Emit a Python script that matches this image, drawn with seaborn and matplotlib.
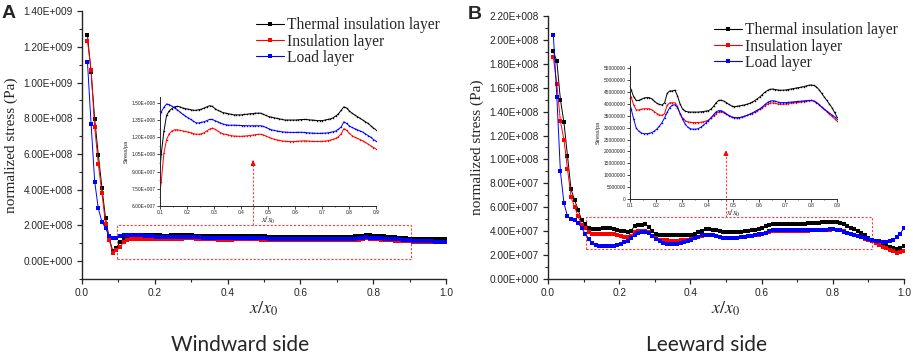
import numpy as np
import pandas as pd
import matplotlib
matplotlib.use("Agg")
import matplotlib.pyplot as plt
import matplotlib.ticker as mtick
from matplotlib.lines import Line2D
from matplotlib.patches import Rectangle
import seaborn as sns

# series names and colours
layers = ['Thermal insulation layer', 'Insulation layer', 'Load layer']
cores = ['#000000', '#ff0000', '#0000ff']

# x/x0 positions of the sample points (same for every curve)
x_pos = np.linspace(0.015, 1.0, 100)

# windward side, stress in units of 1e8 Pa
wind_thermal = [
    12.65, 10.6, 7.95, 5.95, 4.1, 2.4, 1.3, 0.55, 0.75, 1.05,
    1.25, 1.39, 1.43, 1.45, 1.465, 1.47, 1.465, 1.455, 1.45, 1.445,
    1.44, 1.435, 1.435, 1.44, 1.445, 1.455, 1.465, 1.475, 1.47, 1.45,
    1.435, 1.425, 1.415, 1.41, 1.405, 1.40, 1.395, 1.395, 1.395, 1.395,
    1.40, 1.40, 1.405, 1.405, 1.41, 1.41, 1.41, 1.40, 1.39, 1.38,
    1.375, 1.37, 1.365, 1.36, 1.355, 1.35, 1.35, 1.35, 1.35, 1.35,
    1.352, 1.354, 1.355, 1.355, 1.352, 1.35, 1.348, 1.345, 1.345, 1.345,
    1.35, 1.355, 1.36, 1.37, 1.385, 1.405, 1.435, 1.465, 1.455, 1.43,
    1.41, 1.395, 1.38, 1.365, 1.35, 1.335, 1.32, 1.30, 1.28, 1.265,
    1.255, 1.25, 1.25, 1.25, 1.25, 1.25, 1.25, 1.25, 1.25, 1.25]
wind_insul = [
    12.35, 10.7, 7.5, 5.45, 3.8, 2.1, 1.2, 0.45, 0.6, 0.81,
    1.06, 1.18, 1.23, 1.255, 1.265, 1.265, 1.26, 1.255, 1.25, 1.246,
    1.24, 1.232, 1.226, 1.226, 1.23, 1.24, 1.255, 1.27, 1.28, 1.27,
    1.255, 1.24, 1.23, 1.225, 1.22, 1.215, 1.21, 1.209, 1.208, 1.208,
    1.21, 1.212, 1.215, 1.218, 1.222, 1.225, 1.226, 1.22, 1.21, 1.20,
    1.19, 1.183, 1.177, 1.172, 1.168, 1.165, 1.163, 1.162, 1.162, 1.163,
    1.165, 1.167, 1.168, 1.168, 1.166, 1.164, 1.163, 1.163, 1.163, 1.164,
    1.166, 1.17, 1.175, 1.182, 1.19, 1.205, 1.23, 1.275, 1.26, 1.235,
    1.215, 1.2, 1.19, 1.18, 1.17, 1.155, 1.14, 1.125, 1.11, 1.10,
    1.095, 1.09, 1.09, 1.09, 1.09, 1.09, 1.09, 1.09, 1.09, 1.09]
wind_load = [
    11.15, 7.7, 4.45, 2.95, 2.2, 1.85, 1.4, 1.27, 1.3, 1.42,
    1.46, 1.49, 1.485, 1.47, 1.455, 1.44, 1.42, 1.40, 1.385, 1.37,
    1.355, 1.34, 1.325, 1.325, 1.33, 1.335, 1.345, 1.355, 1.355, 1.345,
    1.335, 1.325, 1.315, 1.31, 1.305, 1.305, 1.305, 1.304, 1.303, 1.302,
    1.301, 1.30, 1.30, 1.30, 1.30, 1.30, 1.30, 1.295, 1.285, 1.275,
    1.265, 1.26, 1.255, 1.25, 1.247, 1.245, 1.243, 1.242, 1.242, 1.242,
    1.243, 1.243, 1.242, 1.24, 1.238, 1.236, 1.235, 1.234, 1.234, 1.235,
    1.236, 1.238, 1.242, 1.248, 1.255, 1.27, 1.29, 1.335, 1.32, 1.30,
    1.285, 1.275, 1.265, 1.255, 1.245, 1.23, 1.215, 1.20, 1.18, 1.165,
    1.15, 1.14, 1.13, 1.12, 1.11, 1.10, 1.09, 1.085, 1.08, 1.08]

# leeward side, stress in units of 1e7 Pa
lee_thermal = [
    19.05, 18.2, 15.0, 13.1, 10.3, 7.5, 6.6, 5.8, 4.9, 4.6,
    4.3, 4.15, 4.15, 4.2, 4.25, 4.27, 4.27, 4.22, 4.12, 4.03,
    3.98, 3.96, 4.05, 4.45, 4.55, 4.55, 4.58, 4.35, 4.0, 3.78,
    3.7, 3.67, 3.66, 3.66, 3.66, 3.66, 3.67, 3.68, 3.7, 3.72,
    3.78, 3.9, 4.05, 4.15, 4.16, 4.12, 4.06, 3.98, 3.92, 3.89,
    3.9, 3.92, 3.94, 3.96, 3.99, 4.03, 4.08, 4.14, 4.22, 4.3,
    4.4, 4.5, 4.57, 4.62, 4.63, 4.61, 4.59, 4.58, 4.58, 4.59,
    4.61, 4.63, 4.65, 4.67, 4.69, 4.71, 4.73, 4.76, 4.79, 4.8,
    4.78, 4.72, 4.6, 4.45, 4.3, 4.15, 4.0, 3.85, 3.65, 3.45,
    3.3, 3.15, 3.0, 2.88, 2.78, 2.68, 2.58, 2.5, 2.6, 2.75]
lee_insul = [
    18.55, 16.3, 13.2, 11.65, 9.2, 6.85, 6.05, 5.25, 4.55, 4.3,
    3.95, 3.75, 3.75, 3.78, 3.8, 3.8, 3.8, 3.76, 3.68, 3.6,
    3.54, 3.52, 3.6, 3.95, 4.05, 4.05, 4.05, 3.9, 3.6, 3.4,
    3.3, 3.25, 3.23, 3.22, 3.22, 3.22, 3.23, 3.25, 3.28, 3.32,
    3.4, 3.5, 3.6, 3.66, 3.67, 3.64, 3.58, 3.52, 3.46, 3.43,
    3.42, 3.43, 3.45, 3.48, 3.52, 3.56, 3.6, 3.65, 3.71, 3.78,
    3.85, 3.93, 4.0, 4.04, 4.05, 4.03, 4.0, 3.99, 3.99, 4.0,
    4.02, 4.04, 4.05, 4.06, 4.07, 4.08, 4.1, 4.12, 4.14, 4.15,
    4.13, 4.07, 3.98, 3.88, 3.78, 3.68, 3.58, 3.48, 3.38, 3.28,
    3.15, 3.0, 2.85, 2.7, 2.58, 2.45, 2.32, 2.2, 2.25, 2.38]
lee_load = [
    20.45, 15.2, 9.0, 6.35, 5.25, 5.05, 4.9, 4.7, 4.25, 3.8,
    3.35, 2.98, 2.85, 2.78, 2.75, 2.75, 2.76, 2.8, 2.86, 2.95,
    3.07, 3.22, 3.42, 3.65, 3.85, 3.95, 3.97, 3.85, 3.6, 3.35,
    3.15, 3.02, 2.96, 2.94, 2.94, 2.96, 3.02, 3.1, 3.2, 3.3,
    3.42, 3.55, 3.67, 3.72, 3.72, 3.66, 3.58, 3.5, 3.45, 3.43,
    3.42, 3.43, 3.45, 3.48, 3.52, 3.57, 3.62, 3.68, 3.74, 3.8,
    3.88, 3.98, 4.07, 4.12, 4.14, 4.12, 4.08, 4.06, 4.06, 4.06,
    4.07, 4.08, 4.09, 4.1, 4.11, 4.12, 4.13, 4.14, 4.15, 4.15,
    4.12, 4.06, 3.97, 3.87, 3.78, 3.7, 3.62, 3.54, 3.46, 3.38,
    3.3, 3.22, 3.16, 3.12, 3.12, 3.18, 3.3, 3.5, 3.8, 4.27]


def monta_df(series, escala):
    partes = []
    for nome, vals in zip(layers, series):
        partes.append(pd.DataFrame({'x': x_pos, 'stress': np.array(vals) * escala, 'layer': nome}))
    return pd.concat(partes, ignore_index=True)


df_wind = monta_df([wind_thermal, wind_insul, wind_load], 1e8)
df_lee = monta_df([lee_thermal, lee_insul, lee_load], 1e7)


def fmt_origin(v, pos):
    # 1.40E+009 style, like Origin
    if v == 0:
        return '0.00E+000'
    e = int(np.floor(np.log10(abs(v)) + 1e-9))
    m = v / 10 ** e
    return f'{m:.2f}E{"+" if e >= 0 else "-"}{abs(e):03d}'


sns.set_theme(style='ticks')
plt.rcParams['font.family'] = ['Liberation Sans', 'DejaVu Sans']
plt.rcParams['mathtext.fontset'] = 'stix'
paleta = dict(zip(layers, cores))
serif = 'Liberation Serif'
vermelho_caixa = '#ff4040'

fig = plt.figure(figsize=(9.13, 3.57), dpi=100)


def painel_principal(rect, df, ylim, major, minor, arrow_x, caixa, seta_topo):
    ax = fig.add_axes(rect)
    sns.lineplot(data=df, x='x', y='stress', hue='layer', palette=paleta, ax=ax,
                 marker='s', markersize=2.2, markeredgewidth=0, linewidth=0.7,
                 legend=False, estimator=None, sort=False)
    ax.set_xlim(0, 1.0)
    ax.set_ylim(*ylim)
    ax.xaxis.set_major_locator(mtick.MultipleLocator(0.2))
    ax.xaxis.set_minor_locator(mtick.MultipleLocator(0.1))
    ax.yaxis.set_major_locator(mtick.MultipleLocator(major))
    ax.yaxis.set_minor_locator(mtick.MultipleLocator(minor))
    ax.yaxis.set_major_formatter(mtick.FuncFormatter(fmt_origin))
    ax.xaxis.set_major_formatter(mtick.FormatStrFormatter('%.1f'))
    ax.tick_params(which='major', direction='out', length=3.5, width=0.9, labelsize=7.3, pad=3)
    ax.tick_params(which='minor', direction='out', length=2, width=0.8)
    for s in ['left', 'bottom']:
        ax.spines[s].set_linewidth(1.0)
    sns.despine(ax=ax, top=True, right=True)
    ax.set_xlabel(r'$x/x_0$', fontsize=13, labelpad=1)
    ax.set_ylabel('normalized stress (Pa)', fontsize=11, fontfamily=serif, labelpad=4)
    ax.patch.set_alpha(0)

    # red dashed zoom box and arrow
    x0, y0, x1, y1 = caixa
    ax.add_patch(Rectangle((x0, y0), x1 - x0, y1 - y0, fill=False, ec=vermelho_caixa,
                           lw=0.8, ls=(0, (2, 1.5))))
    ax.plot([arrow_x, arrow_x], [y1, seta_topo * 0.96], color=vermelho_caixa, lw=0.8,
            ls=(0, (2, 1.5)))
    ax.annotate('', xy=(arrow_x, seta_topo), xytext=(arrow_x, seta_topo * 0.93),
                arrowprops=dict(arrowstyle='-|>', color='red', lw=0.8, mutation_scale=7))

    handles = [Line2D([], [], color=c, lw=0.8, marker='s', markersize=2.2, markeredgewidth=0)
               for c in cores]
    ax.legend(handles, layers, loc='upper right', frameon=False,
              prop={'family': serif, 'size': 11.2}, handlelength=1.8, handletextpad=0.2,
              labelspacing=0.02, borderaxespad=0.0, bbox_to_anchor=(1.0, 1.0))
    return ax


def painel_inset(rect, df, ylim, major, fmt, ticksize):
    ax = fig.add_axes(rect)
    sns.lineplot(data=df, x='x', y='stress', hue='layer', palette=paleta, ax=ax,
                 marker='s', markersize=1.0, markeredgewidth=0, linewidth=0.7,
                 legend=False, estimator=None, sort=False)
    ax.set_xlim(0.1, 0.9)
    ax.set_ylim(*ylim)
    ax.xaxis.set_major_locator(mtick.MultipleLocator(0.1))
    ax.xaxis.set_minor_locator(mtick.MultipleLocator(0.05))
    ax.yaxis.set_major_locator(mtick.MultipleLocator(major))
    ax.yaxis.set_minor_locator(mtick.MultipleLocator(major / 2))
    ax.yaxis.set_major_formatter(fmt)
    ax.xaxis.set_major_formatter(mtick.FormatStrFormatter('%.1f'))
    ax.tick_params(which='major', direction='out', length=2, width=0.6, labelsize=ticksize, pad=1)
    ax.tick_params(which='minor', direction='out', length=1, width=0.5)
    for s in ['left', 'bottom']:
        ax.spines[s].set_linewidth(0.7)
    sns.despine(ax=ax, top=True, right=True)
    ax.set_xlabel(r'$x/x_0$', fontsize=6, labelpad=0)
    ax.set_ylabel('Stress/pa', fontsize=4, labelpad=2)
    ax.patch.set_alpha(0)
    return ax


# painel A - barlavento
painel_principal([0.0898, 0.2185, 0.3987, 0.7505], df_wind, (-1.0e8, 1.4e9), 2e8, 1e8,
                 0.47, (0.096, 0.1e8, 0.904, 2.0e8), 5.8e8)
painel_inset([0.1752, 0.423, 0.2366, 0.305], df_wind, (6.0e7, 1.55e8), 1.5e7,
             mtick.FuncFormatter(fmt_origin), 3.5)

# painel B - sotavento
painel_principal([0.6002, 0.2185, 0.3898, 0.7367], df_lee, (0, 2.2e8), 2e7, 1e7,
                 0.5, (0.107, 2.5e7, 0.91, 5.2e7), 1.10e8)
painel_inset([0.690, 0.4426, 0.2267, 0.3725], df_lee, (0, 5.6e7), 5e6,
             mtick.FormatStrFormatter('%d'), 3.5)

fig.text(0.002, 0.985, 'A', fontsize=14, fontweight='bold', va='top', ha='left')
fig.text(0.512, 0.982, 'B', fontsize=14, fontweight='bold', va='top', ha='left')
fig.text(0.263, 0.006, 'Windward side', fontsize=15, ha='center', va='bottom', family='Lato')
fig.text(0.774, 0.006, 'Leeward side', fontsize=15, ha='center', va='bottom', family='Lato')

fig.savefig('out.png', dpi=100)
